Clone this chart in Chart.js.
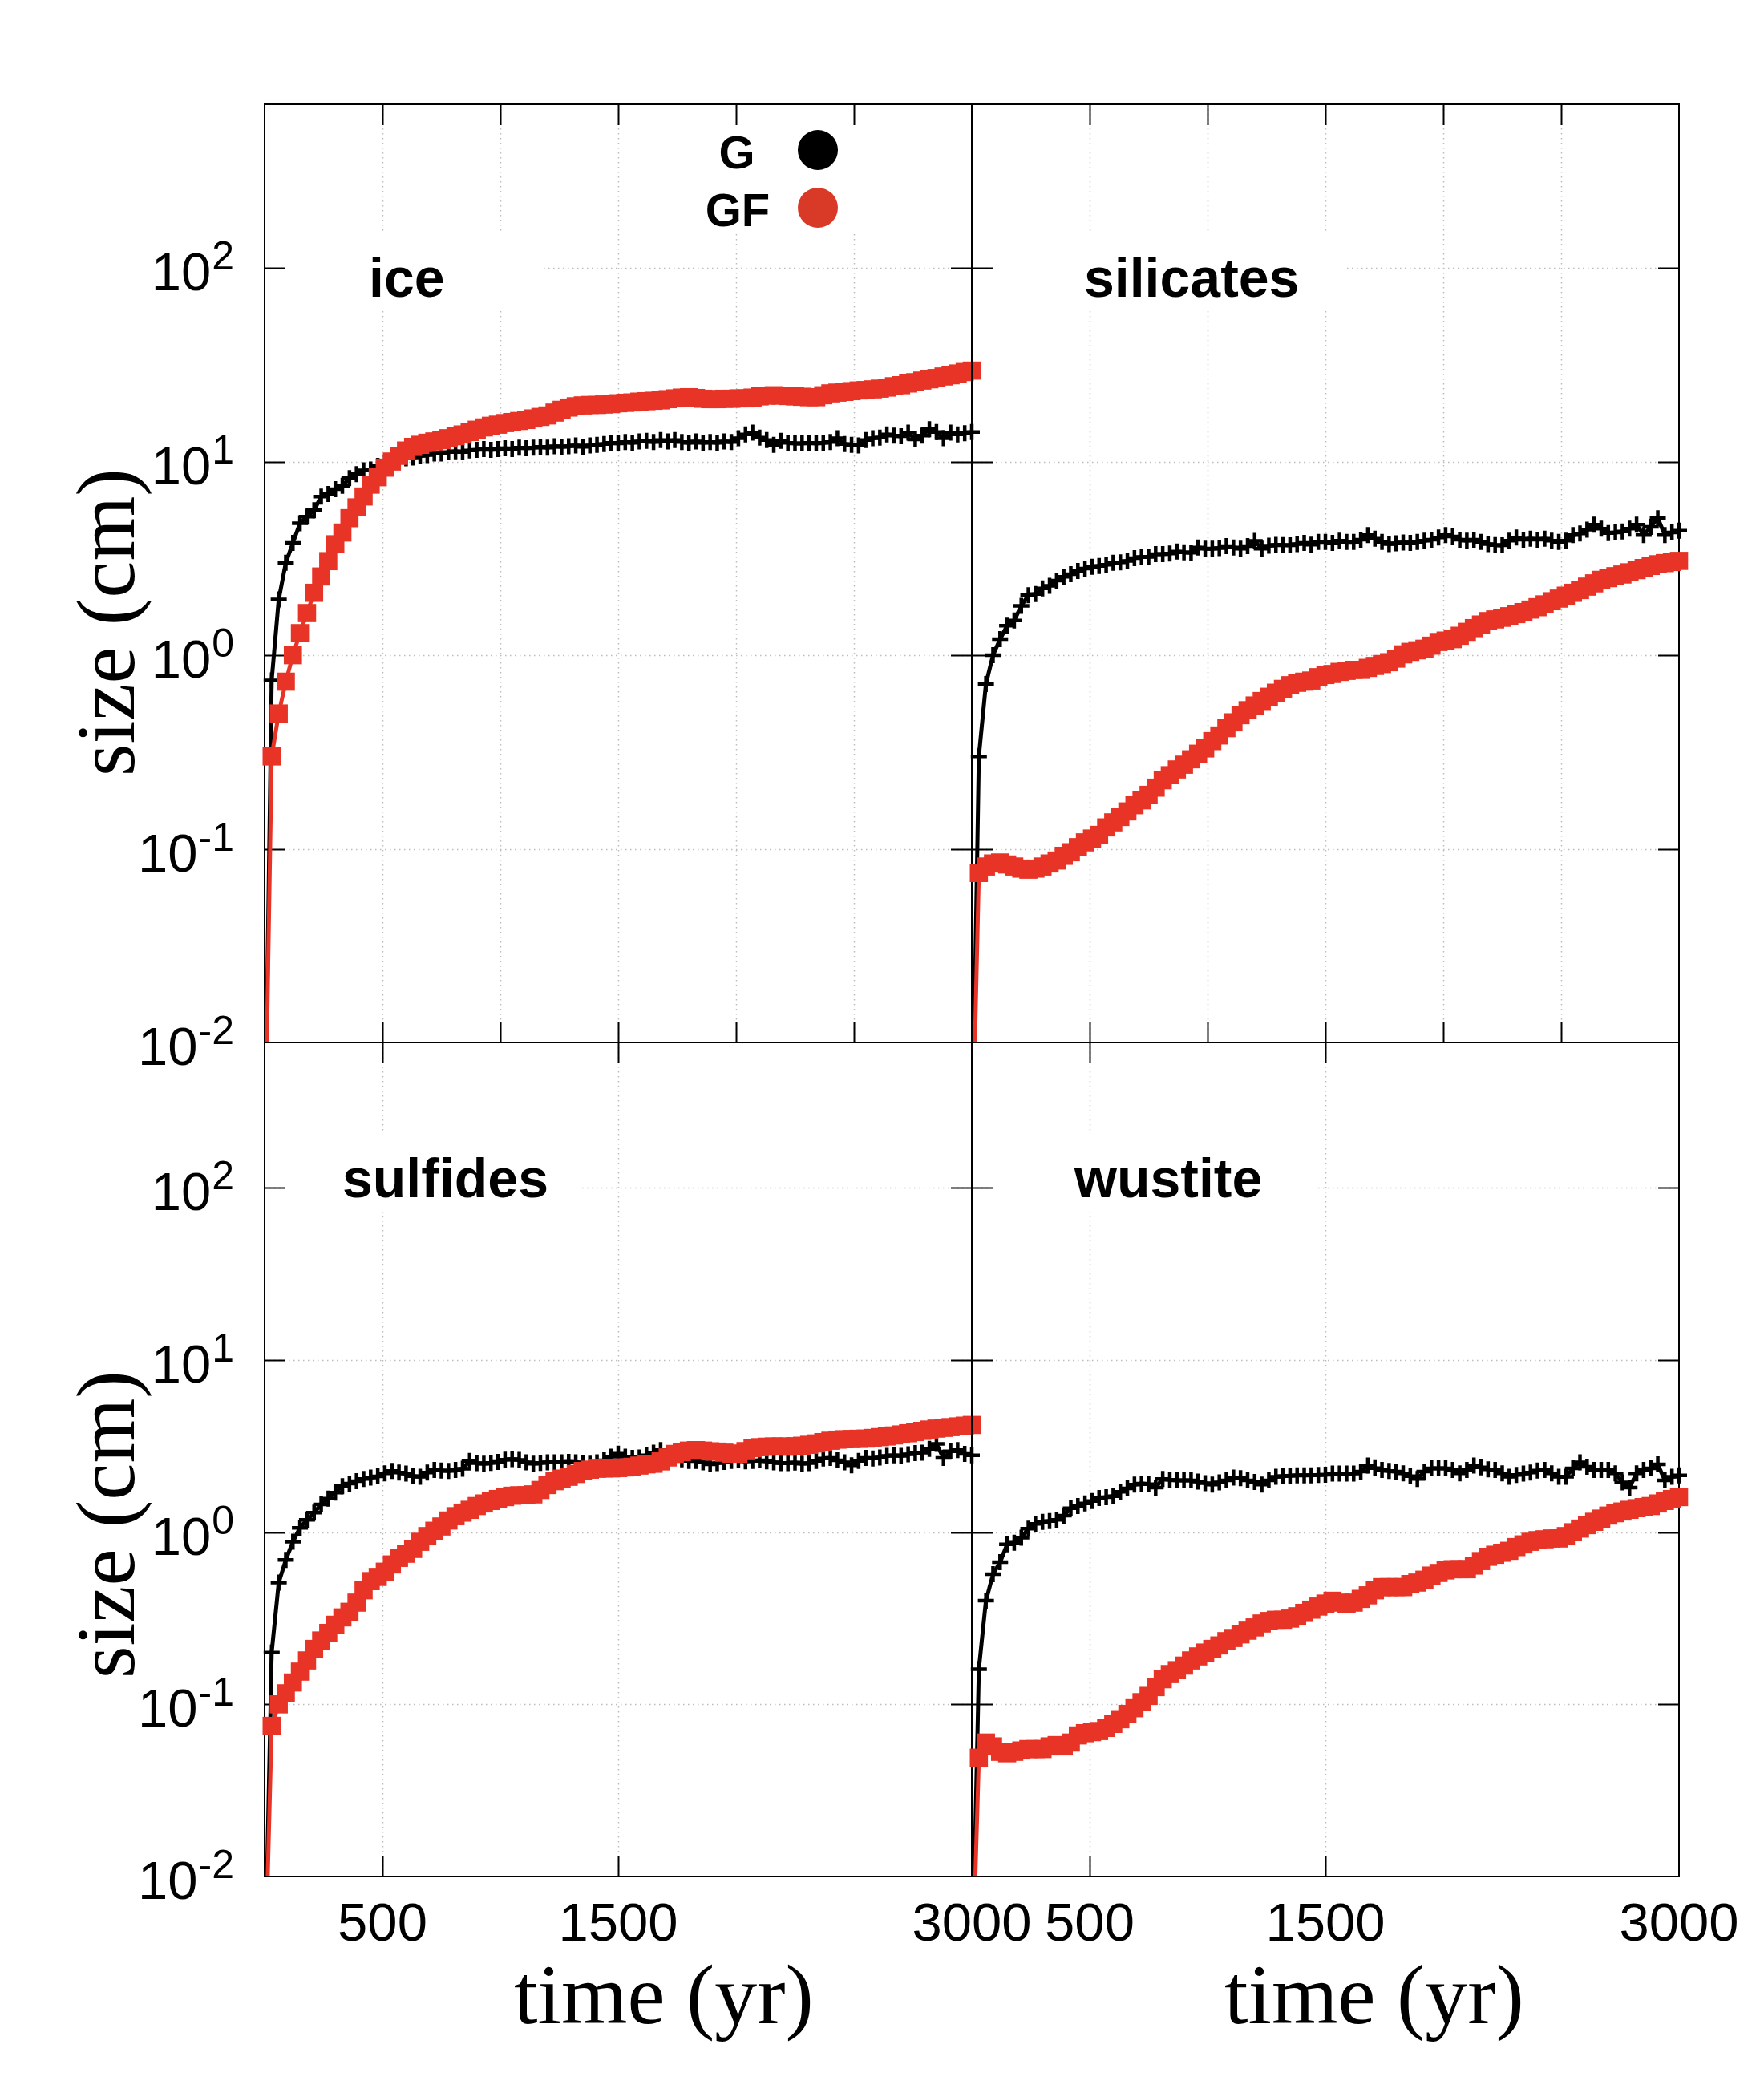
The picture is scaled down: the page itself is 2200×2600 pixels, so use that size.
<!DOCTYPE html>
<html>
<head>
<meta charset="utf-8">
<script src="https://cdn.jsdelivr.net/npm/chart.js@4.4.1/dist/chart.umd.min.js"></script>
<style>
  html, body { margin: 0; padding: 0; background: #fff; }
  #wrap { position: relative; width: 2200px; height: 2600px; }
  canvas { position: absolute; left: 0; top: 0; }
</style>
</head>
<body>
<div id="wrap">
  <canvas id="c_ice" width="2200" height="2600"></canvas>
  <canvas id="c_sil" width="2200" height="2600"></canvas>
  <canvas id="c_sul" width="2200" height="2600"></canvas>
  <canvas id="c_wus" width="2200" height="2600"></canvas>
</div>
<script>
// time axis (yr)
const years = [
  0, 30, 60, 90, 120, 150, 180, 210, 240, 270,
  300, 330, 360, 390, 420, 450, 480, 510, 540, 570,
  600, 630, 660, 690, 720, 750, 780, 810, 840, 870,
  900, 930, 960, 990, 1020, 1050, 1080, 1110, 1140, 1170,
  1200, 1230, 1260, 1290, 1320, 1350, 1380, 1410, 1440, 1470,
  1500, 1530, 1560, 1590, 1620, 1650, 1680, 1710, 1740, 1770,
  1800, 1830, 1860, 1890, 1920, 1950, 1980, 2010, 2040, 2070,
  2100, 2130, 2160, 2190, 2220, 2250, 2280, 2310, 2340, 2370,
  2400, 2430, 2460, 2490, 2520, 2550, 2580, 2610, 2640, 2670,
  2700, 2730, 2760, 2790, 2820, 2850, 2880, 2910, 2940, 2970,
  3000
];

// size (cm), G = black crosses, GF = red squares
const iceG = [
  0.002, 0.74, 1.94, 3.0, 3.8, 4.8, 5.2, 5.6, 6.6, 6.8,
  7.2, 7.5, 8.2, 8.6, 9.0, 9.1, 9.5, 9.8, 10.0, 10.2,
  10.4, 10.5, 10.7, 10.8, 11.0, 11.0, 11.2, 11.3, 11.2, 11.4,
  11.5, 11.6, 11.5, 11.6, 11.7, 11.6, 11.8, 11.7, 11.8, 11.9,
  11.8, 12.0, 11.9, 12.0, 12.1, 11.9, 12.1, 12.2, 12.3, 12.5,
  12.4, 12.6, 12.5, 12.7, 12.8, 12.6, 12.9, 12.7, 12.9, 12.6,
  12.5, 12.7, 12.5, 12.6, 12.5, 12.7, 12.6, 13.2, 13.8, 14.1,
  13.3, 12.9, 12.2, 12.8, 12.5, 12.4, 12.4, 12.5, 12.4, 12.5,
  12.6, 13.2, 12.3, 12.2, 12.1, 12.9, 13.2, 13.3, 13.8, 13.6,
  13.5, 14.1, 13.0, 13.6, 14.7, 14.2, 13.2, 14.1, 13.8, 14.0,
  14.2
];
const iceGF = [
  0.002, 0.30, 0.50, 0.73, 1.0, 1.3, 1.65, 2.1, 2.55, 3.06,
  3.74, 4.3, 5.1, 5.8, 6.6, 7.6, 8.3, 9.3, 10.0, 10.7,
  11.4, 11.9, 12.2, 12.5, 12.7, 12.9, 13.2, 13.5, 13.8, 14.2,
  14.6, 15.0, 15.3, 15.5, 15.8, 16.0, 16.2, 16.4, 16.7, 17.0,
  17.3, 17.9, 18.5, 19.0, 19.3, 19.5, 19.6, 19.6, 19.7, 19.8,
  20.0, 20.1, 20.2, 20.4, 20.5, 20.6, 20.7, 21.0, 21.2, 21.4,
  21.5, 21.3, 21.1, 21.0, 21.0, 21.1, 21.1, 21.2, 21.2, 21.4,
  21.7, 21.9, 22.0, 21.9, 21.8, 21.7, 21.6, 21.5, 21.5, 22.0,
  22.5, 22.7, 22.9, 23.1, 23.3, 23.4, 23.6, 23.8, 24.1, 24.5,
  24.8, 25.3, 25.7, 26.2, 26.6, 27.0, 27.5, 27.9, 28.5, 29.0,
  29.5
];
const silG = [
  0.002, 0.30, 0.71, 1.0, 1.21, 1.42, 1.51, 1.80, 2.04, 2.07,
  2.21, 2.28, 2.43, 2.54, 2.62, 2.72, 2.80, 2.86, 2.89, 2.93,
  3.00, 3.02, 3.07, 3.17, 3.22, 3.22, 3.33, 3.33, 3.35, 3.43,
  3.40, 3.38, 3.60, 3.55, 3.55, 3.57, 3.66, 3.60, 3.55, 3.66,
  3.89, 3.55, 3.68, 3.71, 3.70, 3.69, 3.75, 3.80, 3.72, 3.85,
  3.85, 3.80, 3.90, 3.85, 3.85, 3.95, 4.17, 4.00, 3.85, 3.75,
  3.78, 3.82, 3.80, 3.85, 3.90, 3.95, 4.05, 4.17, 4.10, 3.95,
  3.90, 3.95, 3.85, 3.75, 3.70, 3.69, 3.90, 4.05, 3.95, 4.00,
  3.95, 4.00, 3.90, 3.85, 3.90, 4.17, 4.25, 4.45, 4.72, 4.50,
  4.27, 4.30, 4.35, 4.50, 4.72, 4.17, 4.60, 5.10, 4.17, 4.30,
  4.40
];
const silGF = [
  0.002, 0.075, 0.081, 0.084, 0.085, 0.083, 0.081, 0.079, 0.078, 0.079,
  0.081, 0.084, 0.087, 0.092, 0.096, 0.102, 0.108, 0.113, 0.118, 0.129,
  0.137, 0.146, 0.156, 0.168, 0.178, 0.19, 0.207, 0.226, 0.24, 0.257,
  0.272, 0.29, 0.31, 0.33, 0.36, 0.385, 0.42, 0.45, 0.49, 0.52,
  0.55, 0.58, 0.61, 0.64, 0.67, 0.70, 0.72, 0.73, 0.74, 0.77,
  0.79, 0.80, 0.82, 0.83, 0.84, 0.84, 0.86, 0.88, 0.90, 0.92,
  0.96, 1.01, 1.04, 1.06, 1.08, 1.12, 1.17, 1.19, 1.21, 1.26,
  1.32, 1.38, 1.44, 1.50, 1.53, 1.56, 1.59, 1.63, 1.67, 1.72,
  1.77, 1.83, 1.90, 1.96, 2.03, 2.10, 2.17, 2.26, 2.35, 2.45,
  2.50, 2.56, 2.61, 2.68, 2.75, 2.82, 2.89, 2.95, 2.99, 3.03,
  3.07
];
const sulG = [
  0.002, 0.20, 0.51, 0.69, 0.88, 1.06, 1.18, 1.30, 1.45, 1.57,
  1.70, 1.85, 1.92, 1.98, 2.04, 2.08, 2.11, 2.20, 2.27, 2.22,
  2.19, 2.12, 2.10, 2.22, 2.30, 2.28, 2.27, 2.30, 2.34, 2.60,
  2.52, 2.50, 2.53, 2.56, 2.64, 2.66, 2.63, 2.55, 2.50, 2.53,
  2.55, 2.55, 2.55, 2.56, 2.55, 2.52, 2.50, 2.55, 2.62, 2.75,
  2.86, 2.75, 2.70, 2.72, 2.80, 2.90, 3.00, 2.85, 2.70, 2.65,
  2.60, 2.60, 2.55, 2.48, 2.52, 2.56, 2.60, 2.62, 2.58, 2.60,
  2.62, 2.58, 2.55, 2.52, 2.52, 2.54, 2.50, 2.52, 2.60, 2.68,
  2.70, 2.62, 2.55, 2.45, 2.60, 2.70, 2.68, 2.72, 2.78, 2.80,
  2.78, 2.84, 2.88, 2.90, 3.05, 3.26, 2.70, 2.95, 3.00, 2.85,
  2.80
];
const sulGF = [
  0.002, 0.075, 0.10, 0.116, 0.134, 0.155, 0.18, 0.21, 0.235, 0.26,
  0.29, 0.32, 0.345, 0.39, 0.46, 0.52, 0.55, 0.59, 0.65, 0.71,
  0.75, 0.80, 0.88, 0.95, 1.02, 1.08, 1.17, 1.24, 1.30, 1.35,
  1.42, 1.47, 1.52, 1.56, 1.60, 1.63, 1.64, 1.64, 1.66, 1.76,
  1.88, 1.98, 2.05, 2.10, 2.18, 2.27, 2.31, 2.34, 2.35, 2.35,
  2.36, 2.38, 2.40, 2.44, 2.48, 2.50, 2.58, 2.72, 2.85, 2.92,
  2.98, 3.00, 2.98, 2.95, 2.94, 2.90, 2.86, 2.86, 2.96, 3.08,
  3.12, 3.14, 3.15, 3.15, 3.14, 3.16, 3.18, 3.22, 3.28, 3.34,
  3.40, 3.45, 3.47, 3.48, 3.49, 3.50, 3.53, 3.57, 3.60, 3.65,
  3.70, 3.76, 3.82, 3.88, 3.95, 4.00, 4.04, 4.08, 4.12, 4.16,
  4.20
];
const wusG = [
  0.002, 0.16, 0.40, 0.57, 0.67, 0.85, 0.87, 0.93, 1.05, 1.12,
  1.15, 1.16, 1.18, 1.25, 1.38, 1.42, 1.47, 1.52, 1.58, 1.60,
  1.62, 1.72, 1.80, 1.89, 1.92, 1.90, 1.82, 2.04, 2.02, 2.00,
  2.00, 2.00, 1.97, 1.93, 1.89, 1.95, 2.00, 2.08, 2.06, 2.00,
  1.96, 1.89, 2.00, 2.10, 2.12, 2.13, 2.14, 2.14, 2.14, 2.15,
  2.16, 2.19, 2.19, 2.19, 2.19, 2.25, 2.44, 2.36, 2.30, 2.27,
  2.25, 2.20, 2.12, 2.04, 2.25, 2.35, 2.35, 2.35, 2.30, 2.20,
  2.30, 2.44, 2.38, 2.32, 2.30, 2.20, 2.10, 2.15, 2.19, 2.22,
  2.28, 2.30, 2.20, 2.10, 2.10, 2.35, 2.55, 2.40, 2.30, 2.30,
  2.30, 2.20, 1.95, 1.82, 2.20, 2.30, 2.35, 2.48, 2.00, 2.10,
  2.14
];
const wusGF = [
  0.002, 0.049, 0.060, 0.057, 0.053, 0.052, 0.053, 0.054, 0.055, 0.055,
  0.055, 0.057, 0.058, 0.057, 0.060, 0.066, 0.068, 0.069, 0.070, 0.073,
  0.077, 0.082, 0.088, 0.095, 0.103, 0.112, 0.126, 0.14, 0.15, 0.158,
  0.168, 0.18, 0.19, 0.20, 0.21, 0.22, 0.233, 0.243, 0.255, 0.268,
  0.28, 0.295, 0.305, 0.31, 0.31, 0.315, 0.325, 0.34, 0.355, 0.37,
  0.385, 0.40, 0.39, 0.385, 0.39, 0.41, 0.43, 0.46, 0.48, 0.48,
  0.48, 0.48, 0.50, 0.51, 0.53, 0.56, 0.58, 0.60, 0.61, 0.61,
  0.61, 0.64, 0.68, 0.72, 0.74, 0.76, 0.78, 0.82, 0.85, 0.88,
  0.90, 0.91, 0.92, 0.92, 0.95, 1.00, 1.05, 1.10, 1.15, 1.20,
  1.25, 1.29, 1.32, 1.35, 1.38, 1.40, 1.42, 1.47, 1.52, 1.56,
  1.60
];

// ticks
const yTicks = [0.01, 0.1, 1, 10, 100];
const yTickExp = ['-2', '-1', '0', '1', '2'];
const xTicksTop = [500, 1000, 1500, 2000, 2500];
const xTicksBottom = [500, 1500];
const xTickLabels = ['500', '1500', '3000'];
const xTickLabelValues = [500, 1500, 3000];
const seriesNames = ['G', 'GF'];

const RED = '#e83427';
const RED_KEY = '#d93a28';
const SANS = '"Liberation Sans", Arial, Helvetica, sans-serif';
const SERIF = '"Liberation Serif", "DejaVu Serif", serif';

function pts(vals) {
  return years.map((t, i) => ({ x: t, y: vals[i] }));
}

function hline(ctx, x1, y1, x2, y2) {
  ctx.beginPath();
  ctx.moveTo(x1, y1);
  ctx.lineTo(x2, y2);
  ctx.stroke();
}

function panelPlugin(p) {
  return {
    id: 'panel',
    beforeDatasetsDraw(chart) {
      const ctx = chart.ctx, a = chart.chartArea;
      const xs = chart.scales.x, ys = chart.scales.y;
      ctx.save();
      // dotted grid
      ctx.strokeStyle = '#bcbcbc';
      ctx.lineWidth = 1.5;
      ctx.setLineDash([1.5, 4.5]);
      p.xTicks.forEach(v => {
        const x = Math.round(xs.getPixelForValue(v)) + 0.5;
        hline(ctx, x, a.top, x, a.bottom);
      });
      yTicks.forEach(v => {
        const y = Math.round(ys.getPixelForValue(v)) + 0.5;
        if (y > a.bottom - 2) return;
        hline(ctx, a.left, y, a.right, y);
      });
      ctx.setLineDash([]);
      // opaque label boxes
      ctx.fillStyle = '#fff';
      p.boxes.forEach(b => ctx.fillRect(b[0], b[1], b[2] - b[0], b[3] - b[1]));
      // frame and inward ticks
      ctx.strokeStyle = '#000';
      ctx.lineWidth = 2;
      ctx.strokeRect(a.left, a.top, a.right - a.left, a.bottom - a.top);
      const tl = 26;
      p.xTicks.forEach(v => {
        const x = Math.round(xs.getPixelForValue(v)) + 0.5;
        hline(ctx, x, a.bottom, x, a.bottom - tl);
        hline(ctx, x, a.top, x, a.top + tl);
      });
      yTicks.forEach(v => {
        const y = Math.round(ys.getPixelForValue(v)) + 0.5;
        if (y > a.bottom - 2) return;
        hline(ctx, a.left, y, a.left + tl, y);
        hline(ctx, a.right, y, a.right - tl, y);
      });
      ctx.restore();
    },
    afterDraw(chart) {
      const ctx = chart.ctx, a = chart.chartArea;
      const xs = chart.scales.x, ys = chart.scales.y;
      ctx.save();
      ctx.fillStyle = '#000';
      // y tick labels 10^n
      if (p.yLabels) {
        yTicks.forEach((v, i) => {
          const y = ys.getPixelForValue(v);
          ctx.textAlign = 'right';
          ctx.textBaseline = 'alphabetic';
          ctx.font = '50px ' + SANS;
          const right = a.left - 38;
          const ew = ctx.measureText(yTickExp[i]).width;
          ctx.fillText(yTickExp[i], right, y + 2);
          ctx.font = '67px ' + SANS;
          ctx.fillText('10', right - ew - 1, y + 28);
        });
      }
      // x tick labels
      if (p.xLabels) {
        ctx.font = '67px ' + SANS;
        ctx.textAlign = 'center';
        ctx.textBaseline = 'alphabetic';
        xTickLabelValues.forEach((v, i) => {
          ctx.fillText(xTickLabels[i], xs.getPixelForValue(v), a.bottom + 80);
        });
      }
      // panel name
      ctx.font = 'bold 68px ' + SANS;
      ctx.textAlign = 'left';
      ctx.textBaseline = 'alphabetic';
      ctx.fillText(p.name, p.namePos[0], p.namePos[1]);
      // axis titles
      if (p.yTitle) {
        ctx.save();
        ctx.translate(p.yTitle[0], p.yTitle[1]);
        ctx.rotate(-Math.PI / 2);
        ctx.font = '104px ' + SERIF;
        ctx.textAlign = 'center';
        ctx.textBaseline = 'alphabetic';
        ctx.fillText('size (cm)', 0, 0);
        ctx.restore();
      }
      if (p.xTitle) {
        ctx.font = '106px ' + SERIF;
        ctx.textAlign = 'center';
        ctx.textBaseline = 'alphabetic';
        ctx.fillText('time (yr)', p.xTitle[0], p.xTitle[1]);
      }
      // key
      if (p.key) {
        ctx.font = 'bold 58px ' + SANS;
        ctx.textAlign = 'center';
        ctx.textBaseline = 'alphabetic';
        ctx.fillText(seriesNames[0], 919, 210);
        ctx.fillText(seriesNames[1], 920, 282);
        ctx.fillStyle = '#000';
        ctx.beginPath(); ctx.arc(1020, 187, 25, 0, Math.PI * 2); ctx.fill();
        ctx.fillStyle = RED_KEY;
        ctx.beginPath(); ctx.arc(1020, 259, 25, 0, Math.PI * 2); ctx.fill();
      }
      ctx.restore();
    }
  };
}

function makePanel(p) {
  const clip = { left: 30, right: 30, top: 0, bottom: 0 };
  new Chart(document.getElementById(p.id), {
    type: 'line',
    data: {
      datasets: [
        {
          label: seriesNames[1],
          data: pts(p.gf),
          borderColor: RED,
          backgroundColor: RED,
          borderWidth: 5,
          pointStyle: 'rect',
          pointRadius: 16,
          pointBackgroundColor: RED,
          pointBorderWidth: 0,
          tension: 0,
          clip: clip
        },
        {
          label: seriesNames[0],
          data: pts(p.g),
          borderColor: '#000',
          backgroundColor: '#000',
          borderWidth: 5,
          pointStyle: 'cross',
          pointRadius: 10,
          pointBorderColor: '#000',
          pointBorderWidth: 4.5,
          tension: 0,
          clip: clip
        }
      ]
    },
    options: {
      responsive: false,
      animation: false,
      devicePixelRatio: 1,
      layout: { padding: { left: p.rect[0], top: p.rect[1], right: 2200 - p.rect[2], bottom: 2600 - p.rect[3] } },
      scales: {
        x: { type: 'linear', min: 0, max: 3000, display: false },
        y: { type: 'logarithmic', min: 0.01, max: 700, display: false }
      },
      plugins: { legend: { display: false }, tooltip: { enabled: false } },
      events: []
    },
    plugins: [panelPlugin(p)]
  });
}

makePanel({ id: 'c_ice', name: 'ice', g: iceG, gf: iceGF, rect: [330, 130, 1212, 1300],
  xTicks: xTicksTop, yLabels: true, xLabels: false, namePos: [460, 370],
  yTitle: [167, 776], key: true, boxes: [[342, 288, 673, 388], [845, 135, 1100, 292]] });
makePanel({ id: 'c_sil', name: 'silicates', g: silG, gf: silGF, rect: [1212, 130, 2094, 1300],
  xTicks: xTicksTop, yLabels: false, xLabels: false, namePos: [1352, 370],
  boxes: [[1240, 288, 1680, 388]] });
makePanel({ id: 'c_sul', name: 'sulfides', g: sulG, gf: sulGF, rect: [330, 1300, 1212, 2340],
  xTicks: xTicksBottom, yLabels: true, xLabels: true, namePos: [427, 1493],
  yTitle: [167, 1901], xTitle: [828, 2523], boxes: [[355, 1411, 724, 1511]] });
makePanel({ id: 'c_wus', name: 'wustite', g: wusG, gf: wusGF, rect: [1212, 1300, 2094, 2340],
  xTicks: xTicksBottom, yLabels: false, xLabels: true, namePos: [1340, 1493],
  xTitle: [1714, 2523], boxes: [[1235, 1411, 1640, 1511]] });
</script>
</body>
</html>
